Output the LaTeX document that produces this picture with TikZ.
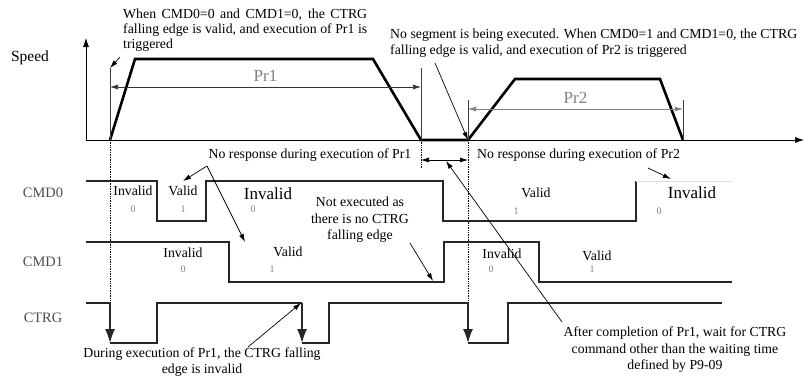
\documentclass[tikz,border=0pt]{standalone}
\usepackage{fontspec}
\setmainfont{Liberation Serif}
\usetikzlibrary{arrows.meta}

\begin{document}
\begin{tikzpicture}[x=1pt, y=-1pt, >={Latex[length=8pt,width=5pt]},
  font=\fontsize{13.8}{15.5}\selectfont,
  sig/.style={line width=1.3pt, draw=black!85},
  prof/.style={line width=2.6pt, line join=miter},
  thin/.style={line width=0.7pt},
  guide/.style={densely dotted, line width=0.7pt},
  fall/.style={sig, -{Latex[length=14pt,width=10pt]}},
  state/.style={inner sep=0pt},
  bit/.style={inner sep=0pt, text=gray, font=\fontsize{10}{10}\selectfont},
  big/.style={inner sep=0pt, font=\fontsize{17}{17}\selectfont},
  sname/.style={inner sep=0pt, text=black!70, font=\fontsize{14.4}{14.4}\selectfont},
  note/.style={inner sep=0pt, align=center, font=\fontsize{13.8}{16.5}\selectfont},
  block/.style={inner sep=0pt, align=justify}]
  \useasboundingbox (0,0) rectangle (806,378);

  % axes
  \coordinate (O) at (86,140);
  \coordinate (Vtop) at (86,38);
  \coordinate (Hend) at (804,140);
  \draw[thin, -{Latex[length=9pt,width=6pt]}] (O) -- (Vtop);
  \draw[thin, -{Latex[length=9pt,width=6pt]}] (O) -- (Hend);

  % speed profile
  \coordinate (P1a) at (110,140);
  \coordinate (P1b) at (135,59);
  \coordinate (P1c) at (373,59);
  \coordinate (P1d) at (421,140);
  \coordinate (P2a) at (468,140);
  \coordinate (P2b) at (515,79);
  \coordinate (P2c) at (660,79);
  \coordinate (P2d) at (683,140);
  \draw[prof] (P1a) -- (P1b) -- (P1c) -- (P1d) -- (P2a) -- (P2b) -- (P2c) -- (P2d);

  % dimension lines
  \coordinate (T1) at (110,68);
  \coordinate (T2) at (421,68);
  \coordinate (T3) at (468,100);
  \coordinate (T4) at (683,100);
  \draw[thin, black!75] (T1) -- (P1a);
  \draw[thin, black!75] (T2) -- (P1d);
  \draw[thin, black!75] (T3) -- (P2a);
  \draw[thin, black!75] (T4) -- (P2d);
  \coordinate (D1l) at (110,87);
  \coordinate (D1r) at (421,87);
  \coordinate (D2l) at (468,109);
  \coordinate (D2r) at (683,109);
  \draw[thin, black!80, <->] (D1l) -- (D1r)
    node[midway, above=2pt, text=gray, font=\fontsize{17}{17}\selectfont] (pr1) {Pr1};
  \draw[thin, gray, <->] (D2l) -- (D2r)
    node[midway, above=2pt, text=gray, font=\fontsize{17}{17}\selectfont] (pr2) {Pr2};

  % guides
  \coordinate (G1) at (110,303);
  \coordinate (G2) at (421,168);
  \coordinate (G3) at (468,303);
  \draw[guide] (P1a) -- (G1);
  \draw[guide] (P1d) -- (G2);
  \draw[guide] (P2a) -- (G3);
  \coordinate (W1) at (421,160);
  \coordinate (W2) at (468,160);
  \draw[thin, <->] (W1) -- (W2);

  % signals
  \draw[sig] (86,181) -- (157,181) -- (157,221) -- (206,221) -- (206,181)
    -- (443,181) -- (443,221) -- (636,221) -- (636,181);
  \draw[very thin, black!12] (636,181) -- (733,181);
  \draw[sig] (86,242) -- (229,242) -- (229,282) -- (444,282) -- (444,242)
    -- (539,242) -- (539,282) -- (732,282);
  \draw[sig] (86,303) -- (G1);
  \draw[fall] (G1) -- (110,343);
  \draw[sig] (110,343) -- (157,343) -- (157,303) -- (302,303);
  \draw[fall] (302,303) -- (302,343);
  \draw[sig] (302,343) -- (329,343) -- (329,303) -- (G3);
  \draw[fall] (G3) -- (468,343);
  \draw[sig] (468,343) -- (508,343) -- (508,303) -- (722,303);

  % signal names
  \node[inner sep=0pt, font=\fontsize{15.5}{15.5}\selectfont] (speed) at (30,58) {Speed};
  \node[sname] (cmd0) at (43,193) {CMD0};
  \node[sname] (cmd1) at (43,262) {CMD1};
  \node[sname] (ctrg) at (43,318) {CTRG};

  % states
  \node[state] (s01) at (133,191) {Invalid};
  \node[bit] at (133,209) {0};
  \node[state] (s02) at (183,191) {Valid};
  \node[bit] at (183,209) {1};
  \node[big] (s03) at (268,194) {Invalid};
  \node[bit] at (253,209) {0};
  \node[state] (s04) at (536,193) {Valid};
  \node[bit] at (516,211) {1};
  \node[big] (s05) at (692,193) {Invalid};
  \node[bit] at (659,211) {0};
  \node[state] (s11) at (183,253) {Invalid};
  \node[bit] at (183,269) {0};
  \node[state] (s12) at (288,252) {Valid};
  \node[bit] at (272,269) {1};
  \node[state] (s13) at (502,254) {Invalid};
  \node[bit] at (491,269) {0};
  \node[state] (s14) at (597,256) {Valid};
  \node[bit] at (592,269) {1};

  % notes
  \node[block, anchor=north west, text width=244pt, font=\fontsize{13.8}{15}\selectfont] (nA) at (123,9)
    {When CMD0=0 and CMD1=0, the CTRG\break falling edge is valid, and execution of Pr1 is\break triggered};
  \coordinate (nAfoot) at (120,57);
  \draw[thin, ->] (nAfoot) -- (T1);

  \node[block, anchor=north west, text width=407pt, font=\fontsize{13.8}{16}\selectfont] (nB) at (390,29)
    {No segment is being executed. When CMD0=1 and CMD1=0, the CTRG\break falling edge is valid, and execution of Pr2 is triggered};
  \coordinate (nBfoot) at (435,63);
  \draw[thin, ->] (nBfoot) -- (P2a);

  \node[note] (nC) at (310,155) {No response during execution of Pr1};
  \coordinate (nCfoot) at (207,166);
  \coordinate (c1) at (183,181);
  \coordinate (c2) at (245,242);
  \draw[thin, ->] (nCfoot) -- (c1);
  \draw[thin, ->] (nCfoot) -- (c2);

  \node[note] (nD) at (360,220) {Not executed as\\there is no CTRG\\falling edge};
  \coordinate (nDfoot) at (410,243);
  \coordinate (d1) at (433,281);
  \draw[thin, ->] (nDfoot) -- (d1);

  \node[note, anchor=west] (nE) at (477,155) {No response during execution of Pr2};
  \coordinate (nEfoot) at (648,168);
  \coordinate (e1) at (671,179);
  \draw[thin, ->] (nEfoot) -- (e1);

  \node[note] (nF) at (202,362) {During execution of Pr1, the CTRG falling\\edge is invalid};
  \coordinate (nFfoot) at (248,347);
  \coordinate (f1) at (301,303);
  \draw[thin, ->] (nFfoot) -- (f1);

  \node[note] (nG) at (675,350) {After completion of Pr1, wait for CTRG\\command other than the waiting time\\defined by P9-09};
  \coordinate (nGfoot) at (562,322);
  \coordinate (g1) at (446,161);
  \draw[thin, ->] (nGfoot) -- (g1);
\end{tikzpicture}
\end{document}
